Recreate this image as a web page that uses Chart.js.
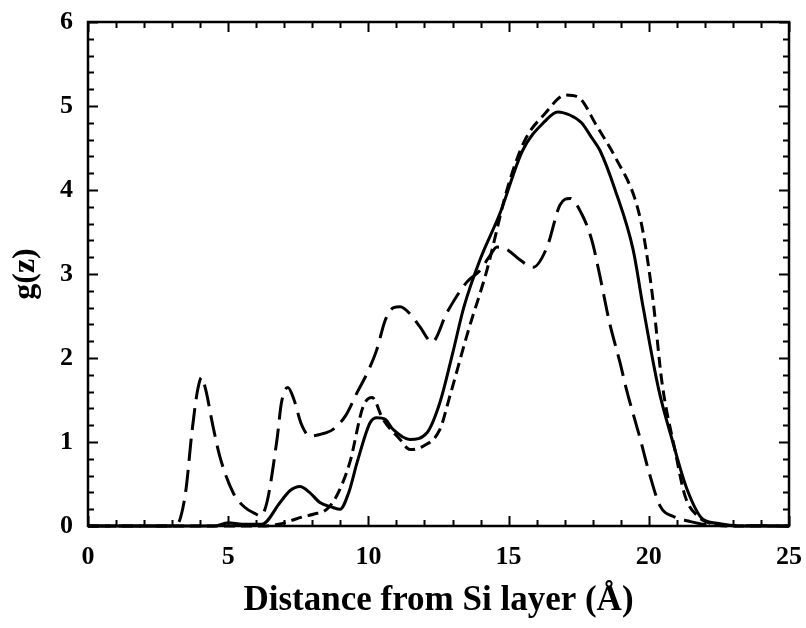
<!DOCTYPE html>
<html>
<head>
<meta charset="utf-8">
<script src="https://cdn.jsdelivr.net/npm/chart.js@4.4.1/dist/chart.umd.min.js"></script>
<style>
  html, body { margin: 0; padding: 0; background: #fff; }
  #wrap { width: 806px; height: 628px; }
</style>
</head>
<body>
<div id="wrap"><canvas id="chart" width="806" height="628"></canvas></div>
<script>
// g(z) profiles
const longX = [0, 3.1, 3.3, 3.5, 3.7, 3.9, 4.05, 4.2, 4.45, 4.7, 5.17, 5.6, 6.0, 6.15, 6.38, 6.74, 6.9, 7.13, 7.35, 7.6, 7.92, 8.27, 8.74, 9.2, 9.6, 10.0, 10.3, 10.6, 10.9, 11.13, 11.5, 11.84, 12.27, 12.8, 13.5, 14.0, 14.3, 14.59, 14.9, 15.4, 15.87, 16.37, 16.83, 17.19, 17.6, 17.97, 18.26, 18.6, 18.97, 19.2, 19.7, 20.0, 20.4, 20.9, 21.4, 22.0, 25];
const longY = [0, 0, 0.1, 0.45, 1.1, 1.6, 1.77, 1.62, 1.2, 0.83, 0.4, 0.22, 0.14, 0.12, 0.28, 1.03, 1.47, 1.65, 1.5, 1.22, 1.07, 1.09, 1.15, 1.32, 1.59, 1.85, 2.1, 2.45, 2.6, 2.61, 2.52, 2.37, 2.19, 2.54, 2.9, 3.05, 3.2, 3.32, 3.3, 3.17, 3.08, 3.32, 3.82, 3.9, 3.72, 3.4, 2.97, 2.42, 1.95, 1.63, 1.03, 0.65, 0.24, 0.11, 0.06, 0.02, 0];

const solidX = [0, 4.5, 5.0, 5.5, 6.2, 6.85, 7.2, 7.56, 7.9, 8.27, 8.74, 8.99, 9.3, 9.6, 10.06, 10.3, 10.6, 10.88, 11.48, 12.09, 12.55, 13.0, 13.4, 13.98, 14.69, 15.5, 16.3, 16.75, 17.2, 17.6, 17.95, 18.26, 18.8, 19.44, 19.8, 20.35, 20.83, 21.36, 21.93, 22.5, 23.2, 25];
const solidY = [0, 0, 0.04, 0.02, 0.02, 0.28, 0.42, 0.47, 0.4, 0.28, 0.22, 0.2, 0.4, 0.76, 1.23, 1.29, 1.27, 1.15, 1.03, 1.11, 1.47, 2.05, 2.6, 3.17, 3.72, 4.47, 4.82, 4.93, 4.89, 4.8, 4.63, 4.47, 4.0, 3.29, 2.6, 1.63, 1.03, 0.44, 0.08, 0.03, 0, 0];

const shortX = [0, 6.2, 6.8, 7.2, 7.67, 8.04, 8.52, 8.87, 9.34, 9.81, 10.13, 10.52, 11.13, 11.48, 11.95, 12.55, 12.9, 13.54, 14.23, 14.94, 15.56, 16.3, 17.03, 17.5, 18.13, 18.87, 19.5, 19.8, 20.15, 20.47, 20.93, 21.3, 21.8, 22.2, 23.0, 25];
const shortY = [0, 0, 0.02, 0.06, 0.11, 0.14, 0.2, 0.36, 0.76, 1.42, 1.53, 1.27, 1.03, 0.91, 0.95, 1.15, 1.54, 2.3, 3.05, 4.0, 4.58, 4.91, 5.13, 5.1, 4.77, 4.35, 3.9, 3.49, 2.69, 1.71, 0.91, 0.35, 0.1, 0.03, 0, 0];

const xTicks = [0, 5, 10, 15, 20, 25];
const yTicks = [0, 1, 2, 3, 4, 5, 6];

const serif = "'Liberation Serif', 'Times New Roman', serif";

function toPoints(xs, ys) {
    return xs.map((x, i) => ({ x: x, y: ys[i] }));
}

// frame + inward ticks on all four sides
const frameTicks = {
    id: 'frameTicks',
    afterDatasetsDraw(chart) {
        const { ctx, chartArea: a, scales } = chart;
        ctx.save();
        ctx.strokeStyle = '#000';
        ctx.lineWidth = 2.5;
        ctx.strokeRect(a.left, a.top, a.right - a.left, a.bottom - a.top);
        ctx.lineWidth = 2;
        ctx.beginPath();
        for (let i = 0; i <= 25; i++) {
            const px = Math.round(scales.x.getPixelForValue(i)) + 0.5;
            const len = i % 5 === 0 ? 10 : 6;
            ctx.moveTo(px, a.bottom); ctx.lineTo(px, a.bottom - len);
            ctx.moveTo(px, a.top); ctx.lineTo(px, a.top + len);
        }
        for (let i = 0; i <= 30; i++) {
            const py = Math.round(scales.y.getPixelForValue(i / 5)) + 0.5;
            const len = i % 5 === 0 ? 10 : 6;
            ctx.moveTo(a.left, py); ctx.lineTo(a.left + len, py);
            ctx.moveTo(a.right, py); ctx.lineTo(a.right - len, py);
        }
        ctx.stroke();
        ctx.restore();
    }
};

function lineSet(xs, ys, dash) {
    return {
        data: toPoints(xs, ys),
        showLine: true,
        borderColor: '#000',
        borderWidth: 3,
        borderDash: dash,
        pointRadius: 0,
        cubicInterpolationMode: 'monotone',
        clip: 6
    };
}

new Chart(document.getElementById('chart').getContext('2d'), {
    type: 'scatter',
    data: {
        datasets: [
            lineSet(longX, longY, [22, 9]),
            lineSet(solidX, solidY, []),
            lineSet(shortX, shortY, [11, 6])
        ]
    },
    options: {
        responsive: false,
        animation: false,
        layout: { padding: { left: 0, right: 17, top: 22, bottom: 0 } },
        plugins: {
            legend: { display: false },
            tooltip: { enabled: false }
        },
        scales: {
            x: {
                type: 'linear',
                min: 0,
                max: 25,
                afterBuildTicks: s => { s.ticks = xTicks.map(v => ({ value: v })); },
                afterFit: s => { s.height = 102; s.paddingLeft = 0; s.paddingRight = 0; },
                grid: { display: false, drawTicks: false },
                border: { display: false },
                ticks: { color: '#000', padding: 16, maxRotation: 0, font: { family: serif, size: 26, weight: 'bold' } },
                title: {
                    display: true,
                    text: 'Distance from Si layer (Å)',
                    color: '#000',
                    padding: { top: 0, bottom: 6 },
                    font: { family: serif, size: 35, weight: 'bold' }
                }
            },
            y: {
                type: 'linear',
                min: 0,
                max: 6,
                afterBuildTicks: s => { s.ticks = yTicks.map(v => ({ value: v })); },
                afterFit: s => { s.width = 88; s.paddingTop = 0; s.paddingBottom = 0; },
                grid: { display: false, drawTicks: false },
                border: { display: false },
                ticks: { color: '#000', padding: 15, font: { family: serif, size: 26, weight: 'bold' } },
                title: {
                    display: true,
                    text: 'g(z)',
                    color: '#000',
                    padding: { top: 7, bottom: 0 },
                    font: { family: serif, size: 32, weight: 'bold' }
                }
            }
        }
    },
    plugins: [frameTicks]
});
</script>
</body>
</html>
